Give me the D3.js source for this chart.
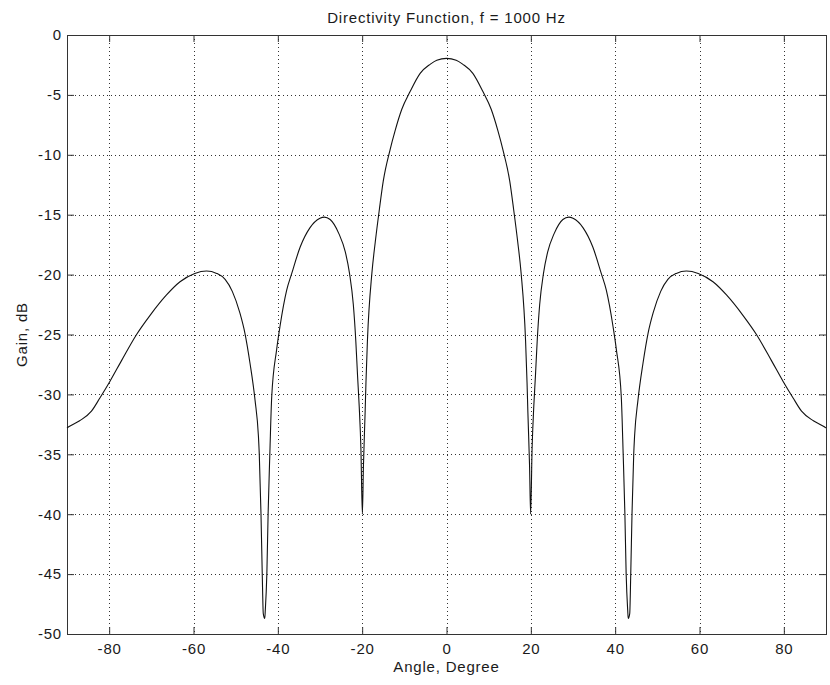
<!DOCTYPE html>
<html>
<head>
<meta charset="utf-8">
<script src="https://cdn.jsdelivr.net/npm/d3@7"></script>
<style>
  body { margin: 0; background: #fff; }
  text { font-family: "Liberation Sans", Arial, sans-serif; fill: #1a1a1a; letter-spacing: 0.8px; }
</style>
</head>
<body>
<div id="wrapper"></div>
<script>
// angle in degrees, gain in dB
const angles = [
  -90, -89.6, -87, -84.2, -82.2, -79.8, -77.1, -73.5, -70.3, -66.4, -63.2, -59.7, -56.9, -54.5, -52.5,
  -50.8, -49.0, -47.8, -46.6, -45.4, -44.6, -44.4, -44.0, -43.7, -43.45, -43.1, -42.97, -42.6, -42.3,
  -41.9, -41.45, -40.3, -39.5, -37.9, -36.7, -34.7, -32.4, -30.0, -29.0, -27.6, -25.5, -24.0, -23.0,
  -22.1, -21.5, -21.1, -20.7, -20.3, -19.95, -19.7, -19.3, -19.1, -18.75, -17.7, -16.9, -15.9, -15.0,
  -13.4, -12.2, -10.6, -8.6, -6.25, -3.9, -2.3, 0,
  2.3, 3.9, 6.25, 8.6, 10.6, 12.2, 13.4, 15.0, 15.9, 16.9, 17.7, 18.75, 19.1, 19.3, 19.7, 19.95,
  20.3, 20.7, 21.1, 21.5, 22.1, 23.0, 24.0, 25.5, 27.6, 29.0, 30.0, 32.4, 34.7, 36.7, 37.9, 39.5,
  40.3, 41.45, 41.9, 42.3, 42.6, 42.97, 43.1, 43.45, 43.7, 44.0, 44.4, 44.6, 45.4, 46.6, 47.8, 49.0,
  50.8, 52.5, 54.5, 56.9, 59.7, 63.2, 66.4, 70.3, 73.5, 77.1, 79.8, 82.2, 84.2, 87, 89.6, 90
];
const gains = [
  -32.8, -32.7, -32.2, -31.4, -30.3, -28.9, -27.2, -25.0, -23.4, -21.7, -20.6, -19.9, -19.7, -19.9, -20.4,
  -21.4, -23.2, -24.9, -27.4, -30.5, -33.5, -35.0, -39.9, -44.9, -48.3, -48.7, -48.0, -44.9, -39.9,
  -35.0, -30.2, -26.3, -24.35, -21.3, -19.9, -17.7, -16.1, -15.3, -15.2, -15.4, -16.6, -18.1, -19.9,
  -22.5, -25.6, -28.4, -31.0, -34.5, -40.0, -36.0, -31.5, -29.0, -25.5, -19.9, -17.3, -14.5, -12.2,
  -9.6, -8.0, -6.2, -4.7, -3.2, -2.45, -2.1, -1.95,
  -2.1, -2.45, -3.2, -4.7, -6.2, -8.0, -9.6, -12.2, -14.5, -17.3, -19.9, -25.5, -29.0, -31.5, -36.0, -40.0,
  -34.5, -31.0, -28.4, -25.6, -22.5, -19.9, -18.1, -16.6, -15.4, -15.2, -15.3, -16.1, -17.7, -19.9, -21.3, -24.35,
  -26.3, -30.2, -35.0, -39.9, -44.9, -48.0, -48.7, -48.3, -44.9, -39.9, -35.0, -33.5, -30.5, -27.4, -24.9, -23.2,
  -21.4, -20.4, -19.9, -19.7, -19.9, -20.6, -21.7, -23.4, -25.0, -27.2, -28.9, -30.3, -31.4, -32.2, -32.7, -32.8
];
const xTicks = [-80, -60, -40, -20, 0, 20, 40, 60, 80];
const yTicks = [0, -5, -10, -15, -20, -25, -30, -35, -40, -45, -50];

const width = 830, height = 685;
const margin = { top: 35, right: 4, bottom: 51, left: 67 };

const svg = d3.select("#wrapper").append("svg")
  .attr("width", width)
  .attr("height", height)
  .style("font-size", "15px");

const x = d3.scaleLinear().domain([-90, 90]).range([margin.left, width - margin.right]);
const y = d3.scaleLinear().domain([-50, 0]).range([height - margin.bottom, margin.top]);

// grid
const grid = svg.append("g")
  .attr("stroke", "#333")
  .attr("stroke-width", 1)
  .attr("stroke-dasharray", "1,3");
grid.selectAll(".gx")
  .data(xTicks)
  .join("line")
  .attr("x1", d => Math.round(x(d)) + 0.5)
  .attr("x2", d => Math.round(x(d)) + 0.5)
  .attr("y1", y(0))
  .attr("y2", y(-50));
grid.selectAll(".gy")
  .data(yTicks.filter(d => d !== 0 && d !== -50))
  .join("line")
  .attr("y1", d => Math.round(y(d)) + 0.5)
  .attr("y2", d => Math.round(y(d)) + 0.5)
  .attr("x1", x(-90))
  .attr("x2", x(90));

// axes (ticks pointing inward, matlab box style)
const tickLen = 7;
const fmt = d => String(d); // plain hyphen, like matlab
const xAxisBottom = d3.axisBottom(x).tickValues(xTicks).tickFormat(fmt).tickSizeInner(-tickLen).tickSizeOuter(0).tickPadding(9);
const xAxisTop = d3.axisTop(x).tickValues(xTicks).tickSizeInner(-tickLen).tickSizeOuter(0).tickFormat("");
const yAxisLeft = d3.axisLeft(y).tickValues(yTicks).tickFormat(fmt).tickSizeInner(-tickLen).tickSizeOuter(0).tickPadding(5);
const yAxisRight = d3.axisRight(y).tickValues(yTicks).tickSizeInner(-tickLen).tickSizeOuter(0).tickFormat("");

function styleAxis(g) {
  g.select(".domain").remove();
  g.selectAll(".tick line").attr("stroke", "#333");
  g.selectAll(".tick text").attr("fill", "#1a1a1a").style("font-size", "15px")
    .style("font-family", "Liberation Sans, Arial, sans-serif");
}

svg.append("g").attr("transform", `translate(0,${y(-50)})`).call(xAxisBottom).call(styleAxis);
svg.append("g").attr("transform", `translate(0,${y(0)})`).call(xAxisTop).call(styleAxis);
svg.append("g").attr("transform", `translate(${x(-90)},0)`).call(yAxisLeft).call(styleAxis);
svg.append("g").attr("transform", `translate(${x(90)},0)`).call(yAxisRight).call(styleAxis);

// box
svg.append("rect")
  .attr("x", x(-90) + 0.5)
  .attr("y", y(0) + 0.5)
  .attr("width", x(90) - x(-90))
  .attr("height", y(-50) - y(0))
  .attr("fill", "none")
  .attr("stroke", "#333")
  .attr("stroke-width", 1);

// curve
const pts = angles.map((a, i) => [a, gains[i]]);
const line = d3.line()
  .x(d => x(d[0]))
  .y(d => y(d[1]))
  .curve(d3.curveMonotoneX);

svg.append("path")
  .datum(pts)
  .attr("fill", "none")
  .attr("stroke", "#111")
  .attr("stroke-width", 1.1)
  .attr("d", line);

// labels
svg.append("text")
  .attr("x", (x(-90) + x(90)) / 2)
  .attr("y", 23)
  .attr("text-anchor", "middle")
  .text("Directivity Function, f = 1000 Hz");

svg.append("text")
  .attr("x", (x(-90) + x(90)) / 2)
  .attr("y", 672)
  .attr("text-anchor", "middle")
  .text("Angle, Degree");

svg.append("text")
  .attr("transform", `translate(27,${(y(0) + y(-50)) / 2}) rotate(-90)`)
  .attr("text-anchor", "middle")
  .text("Gain, dB");
</script>
</body>
</html>
